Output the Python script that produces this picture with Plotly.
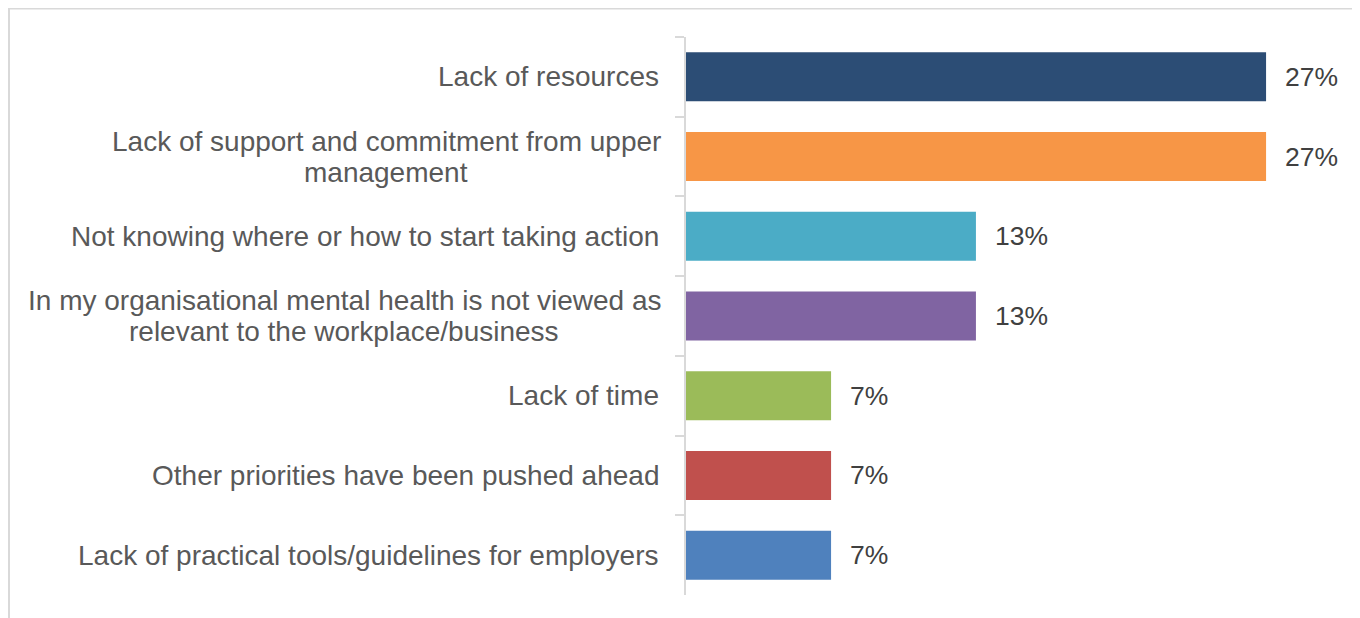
import plotly.graph_objects as go

categories = [
    "Lack of resources",
    "Lack of support and commitment from upper<br>management",
    "Not knowing where or how to start taking action",
    "In my organisational mental health is not viewed as<br>relevant to the workplace/business",
    "Lack of time",
    "Other priorities have been pushed ahead",
    "Lack of practical tools/guidelines for employers",
]
values = [26.67, 26.67, 13.33, 13.33, 6.67, 6.67, 6.67]
value_labels = ["27%", "27%", "13%", "13%", "7%", "7%", "7%"]
colors = ["#2C4D75", "#F79646", "#4BACC6", "#8064A2", "#9BBB59", "#C0504D", "#4F81BD"]

# page body has an 8px margin; compensate so the screenshot lines up
OFF = 8
W, H = 1360, 618
ml, mr, mt, mb = 686 - OFF, 65 + OFF, 37 - OFF, 23 + OFF
pw = W - ml - mr
ph = H - mt - mb

fig = go.Figure()
fig.add_trace(go.Bar(
    x=values, y=categories, orientation="h",
    marker=dict(color=colors, line=dict(width=0)),
    hoverinfo="skip",
))

font = "Liberation Sans, Arial, sans-serif"
LINE = 31

# Arial/Liberation Sans advance widths (per 1000 em) to centre wrapped lines under the widest one
W_ARIAL = {
    ' ': 278, 'a': 556, 'b': 556, 'c': 500, 'd': 556, 'e': 556, 'f': 278, 'g': 556, 'h': 556, 'i': 222,
    'j': 222, 'k': 500, 'l': 222, 'm': 833, 'n': 556, 'o': 556, 'p': 556, 'q': 556, 'r': 333, 's': 500,
    't': 278, 'u': 556, 'v': 500, 'w': 722, 'x': 500, 'y': 500, 'z': 500, 'L': 556, 'N': 722, 'I': 278,
    'O': 778, '/': 278,
}


def text_w(s, size):
    return sum(W_ARIAL.get(ch, 556) for ch in s) * size / 1000.0


annotations = []
for c in categories:
    lines = c.split("<br>")
    n = len(lines)
    wmax = max(text_w(ln, 28) for ln in lines)
    centre = -25 - wmax / 2
    for i, ln in enumerate(lines):
        ann = dict(
            x=0, xref="paper", y=c, yref="y", text=ln, showarrow=False,
            xanchor="center", yanchor="middle", align="center",
            xshift=centre, yshift=((n - 1) / 2 - i) * LINE,
            font=dict(family=font, size=28, color="#595959"),
        )
        if n == 1:
            ann.update(xanchor="right", xshift=-25)
        annotations.append(ann)

for v, lab, c in zip(values, value_labels, categories):
    annotations.append(dict(
        x=v, xref="x", y=c, yref="y", text=lab, showarrow=False,
        xanchor="left", yanchor="middle", xshift=17,
        font=dict(family=font, size=26.5, color="#404040"),
    ))


def px2x(px):
    return (px - OFF - ml) / pw


def py2y(py):
    return 1 - (py - OFF - mt) / ph


shapes = [
    dict(type="line", xref="paper", yref="paper", x0=px2x(9), x1=px2x(W + OFF), y0=py2y(8.5), y1=py2y(8.5),
         line=dict(color="#D9D9D9", width=2)),
    dict(type="line", xref="paper", yref="paper", x0=px2x(9), x1=px2x(9), y0=py2y(8), y1=py2y(H + OFF),
         line=dict(color="#D9D9D9", width=2)),
]

fig.update_layout(
    width=W, height=H,
    margin=dict(l=ml, r=mr, t=mt, b=mb, pad=0),
    paper_bgcolor="white", plot_bgcolor="white",
    bargap=0.385,
    showlegend=False,
    annotations=annotations,
    shapes=shapes,
    xaxis=dict(range=[0, 28], visible=False, fixedrange=True),
    yaxis=dict(
        autorange="reversed", showticklabels=False,
        showline=True, linecolor="#D9D9D9", linewidth=2,
        ticks="outside", ticklen=9, tickcolor="#D9D9D9", tickwidth=2,
        tickson="boundaries", showgrid=False, zeroline=False, fixedrange=True,
    ),
)

fig.write_html("out.html")
